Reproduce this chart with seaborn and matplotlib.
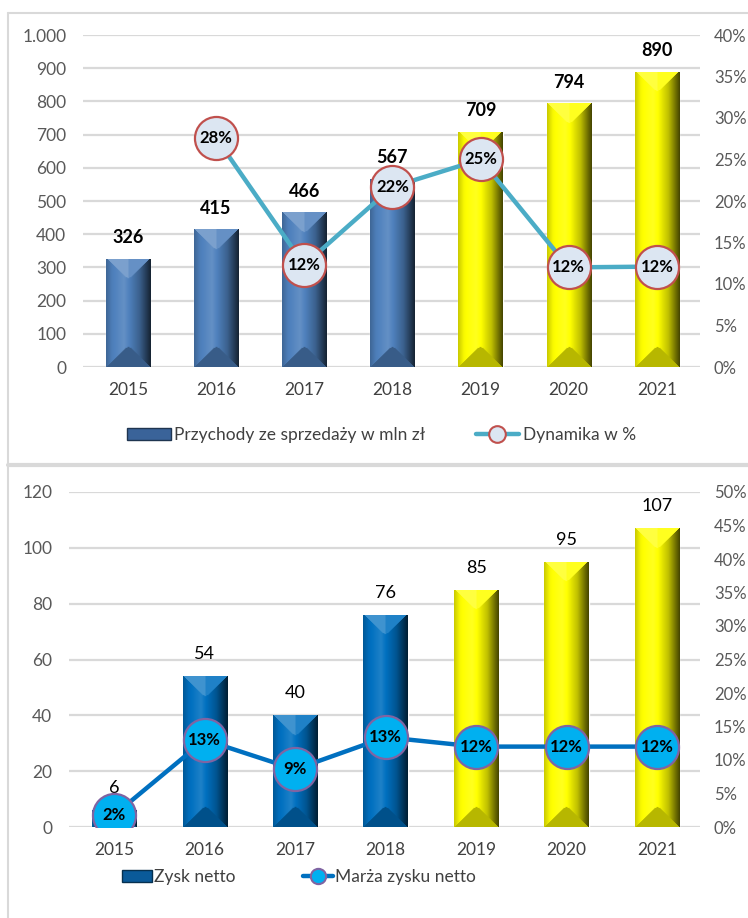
import numpy as np
import matplotlib
matplotlib.use("Agg")
import matplotlib.pyplot as plt
import seaborn as sns
from matplotlib.colors import to_rgb
from matplotlib.lines import Line2D
from matplotlib.patches import Patch
from matplotlib.ticker import FuncFormatter

# Dane
lata = ['2015', '2016', '2017', '2018', '2019', '2020', '2021']
przychody = [326, 415, 466, 567, 709, 794, 890]
dynamika = [np.nan, 27.6, 12.3, 21.7, 25.0, 12.0, 12.1]
zysk = [6, 54, 40, 76, 85, 95, 107]
marza = [1.8, 13.0, 8.6, 13.4, 12.0, 12.0, 12.0]

NIEBIESKI_1 = '#4F81BD'
NIEBIESKI_2 = '#0070C0'
ZOLTY = '#FFFF00'
kolory_1 = [NIEBIESKI_1] * 4 + [ZOLTY] * 3
kolory_2 = [NIEBIESKI_2] * 4 + [ZOLTY] * 3

sns.set_theme(style='white')
plt.rcParams['font.family'] = ['Lato', 'DejaVu Sans']

W, H = 748, 918
fig = plt.figure(figsize=(W / 100, H / 100), dpi=100)


# Gradient "3D" na slupku
def cieniuj(baza, k):
    baza = np.array(baza)
    k = k[..., None]
    jasny = baza + (1 - baza) * np.clip(k - 1, 0, 1)
    ciemny = baza * np.clip(k, 0, 1)
    return np.where(k >= 1, jasny, ciemny)


def gradient_slupkow(ax, ymax):
    bbox = ax.get_window_extent()
    px_na_jedn = bbox.height / ymax
    px_x = bbox.width / (ax.get_xlim()[1] - ax.get_xlim()[0])
    for p in ax.patches:
        x0, w, h = p.get_x(), p.get_width(), p.get_height()
        w_px = max(int(w * px_x), 2)
        h_px = max(int(h * px_na_jedn), 2)
        baza = to_rgb(p.get_facecolor())
        xs = np.linspace(0, 1, w_px)
        prof = np.interp(xs, [0, 0.12, 0.4, 0.75, 1], [0.8, 0.97, 1.12, 0.75, 0.28])
        k = np.tile(prof, (h_px, 1))
        i = np.arange(h_px)[:, None]
        j = np.arange(w_px)[None, :]
        d = np.minimum(j, w_px - 1 - j)
        gora = i < d * 0.95
        dol = (h_px - 1 - i) < d * 0.95
        k = np.where(gora, 1.25 * np.ones_like(k) * (0.9 + 0.1 * (j < w_px / 2)), k)
        k = np.where(dol, 0.72, k)
        img = cieniuj(baza, k)
        im = ax.imshow(img, extent=[x0, x0 + w, 0, h], aspect='auto',
                       interpolation='bilinear', zorder=2)
        im.set_clip_path(p)


def styl_osi(ax, ax2):
    for a in (ax, ax2):
        for s in a.spines.values():
            s.set_visible(False)
        a.tick_params(length=0)
    ax.yaxis.grid(True, color='#D9D9D9', lw=1.6)
    ax.set_axisbelow(True)
    ax.set_xlabel('')
    ax.set_ylabel('')
    ax2.set_ylabel('')
    ax.tick_params(axis='x', labelsize=12.5, labelcolor='#404040', pad=11)
    ax.tick_params(axis='y', labelsize=12.5, labelcolor='#595959', pad=12)
    ax2.tick_params(axis='y', labelsize=12, labelcolor='#595959', pad=10)
    ax2.yaxis.set_major_formatter(FuncFormatter(lambda v, _: f'{v:.0f}%'))


# ---- Wykres gorny ----
ax = fig.add_axes([83 / W, 1 - 367 / H, 617 / W, 332 / H])
sns.barplot(x=lata, y=przychody, hue=lata, palette=kolory_1, legend=False,
            width=0.5, saturation=1, ax=ax)
ax.set_xlim(-0.51, 6.49)
ax.set_ylim(0, 1000)
ax.set_yticks(np.arange(0, 1001, 100))
ax.yaxis.set_major_formatter(FuncFormatter(lambda v, _: f'{v:,.0f}'.replace(',', '.')))
gradient_slupkow(ax, 1000)
for i, v in enumerate(przychody):
    ax.annotate(f'{v}', (i, v), xytext=(0, 9), textcoords='offset points',
                ha='center', va='bottom', fontsize=13, fontweight='bold', color='black')

ax2 = ax.twinx()
sns.lineplot(x=np.arange(7), y=dynamika, color='#4BACC6', lw=3.2, marker='o',
             markersize=31, markerfacecolor='#DCE6F2', markeredgecolor='#C0504D',
             markeredgewidth=1.6, ax=ax2, zorder=5)
ax2.set_ylim(0, 40)
ax2.set_yticks(np.arange(0, 41, 5))
for i, v in enumerate(dynamika):
    if not np.isnan(v):
        ax2.text(i, v, f'{v:.0f}%', ha='center', va='center', fontsize=12,
                 fontweight='bold', color='black', zorder=6)
styl_osi(ax, ax2)

fig.legend(handles=[Patch(facecolor='#3A6399', edgecolor='#1F3550', lw=1),
                    Line2D([], [], color='#4BACC6', lw=3.2, marker='o', markersize=12,
                           markerfacecolor='#DCE6F2', markeredgecolor='#C0504D',
                           markeredgewidth=1.5)],
           labels=['Przychody ze sprzedaży w mln zł', 'Dynamika w %'],
           loc='center', bbox_to_anchor=(0.51, 1 - 435 / H), ncol=2, frameon=False,
           fontsize=12.5, labelcolor='#404040', handlelength=2.5, handleheight=0.7,
           handletextpad=0.2, columnspacing=2.9)

# ---- Wykres dolny ----
bx = fig.add_axes([69 / W, 1 - 827 / H, 631 / W, 335 / H])
sns.barplot(x=lata, y=zysk, hue=lata, palette=kolory_2, legend=False,
            width=0.49, saturation=1, ax=bx)
bx.set_xlim(-0.5, 6.475)
bx.set_ylim(0, 120)
bx.set_yticks(np.arange(0, 121, 20))
gradient_slupkow(bx, 120)
for i, v in enumerate(zysk):
    bx.annotate(f'{v}', (i, v), xytext=(0, 10), textcoords='offset points',
                ha='center', va='bottom', fontsize=13, color='black')

bx2 = bx.twinx()
sns.lineplot(x=np.arange(7), y=marza, color='#0070C0', lw=3.2, marker='o',
             markersize=31, markerfacecolor='#00B0F0', markeredgecolor='#8064A2',
             markeredgewidth=1.6, ax=bx2, zorder=5)
bx2.set_ylim(0, 50)
bx2.set_yticks(np.arange(0, 51, 5))
for i, v in enumerate(marza):
    bx2.text(i, v, f'{v:.0f}%', ha='center', va='center', fontsize=12,
             fontweight='bold', color='black', zorder=6)
styl_osi(bx, bx2)

fig.legend(handles=[Patch(facecolor='#0A5A99', edgecolor='#06304F', lw=1),
                    Line2D([], [], color='#0070C0', lw=3.2, marker='o', markersize=11,
                           markerfacecolor='#00B0F0', markeredgecolor='#8064A2',
                           markeredgewidth=1.5)],
           labels=['Zysk netto', 'Marża zysku netto'],
           loc='center', bbox_to_anchor=(0.40, 1 - 877 / H), ncol=2, frameon=False,
           fontsize=12.5, labelcolor='#404040', handlelength=1.7, handleheight=0.7,
           handletextpad=0.15, columnspacing=3.9)

# Ramki
kolor_ramki = '#D9D9D9'
fig.add_artist(Line2D([8 / W, 8 / W], [0, 1 - 13 / H], color=kolor_ramki, lw=1.5))
fig.add_artist(Line2D([8 / W, 1], [1 - 13 / H, 1 - 13 / H], color=kolor_ramki, lw=1.5))
fig.add_artist(Line2D([8 / W, 1], [1 - 465 / H, 1 - 465 / H], color=kolor_ramki, lw=3))

fig.savefig('out.png', dpi=100)
